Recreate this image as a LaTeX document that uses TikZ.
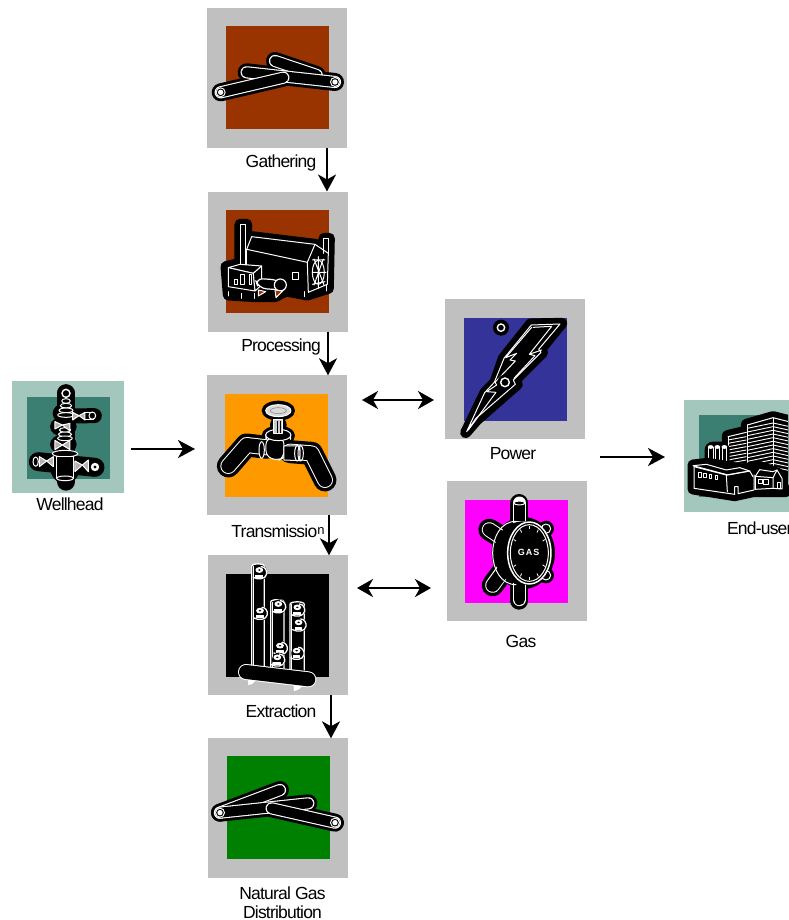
\documentclass[tikz,border=0pt]{standalone}
\usepackage{fontspec}
\setmainfont[LetterSpace=-4.5]{Liberation Sans}
\usetikzlibrary{arrows.meta}
\definecolor{tilegray}{HTML}{C0C0C0}
\definecolor{brownb}{HTML}{993300}
\definecolor{orangeb}{HTML}{FF9900}
\definecolor{greenb}{HTML}{008000}
\definecolor{blueb}{HTML}{333399}
\definecolor{magb}{HTML}{FF00FF}
\definecolor{tealb}{HTML}{3B7F73}
\definecolor{tealt}{HTML}{A3C7BD}
\tikzset{
  tile/.style={fill=tilegray,draw=none,minimum width=140pt,minimum height=140pt,inner sep=0pt,outer sep=0pt},
  tealtile/.style={fill=tealt,draw=none,minimum width=112pt,minimum height=112pt,inner sep=0pt,outer sep=0pt},
  core/.style={fill=#1,draw=none,minimum width=103pt,minimum height=103pt,inner sep=0pt,outer sep=0pt},
  tealcore/.style={fill=tealb,draw=none,minimum width=83pt,minimum height=82pt,inner sep=0pt,outer sep=0pt},
  lab/.style={inner sep=0pt,outer sep=0pt,font=\fontsize{17.5pt}{18.5pt}\selectfont,text=black,align=center},
  flow/.style={line width=2.3pt,black,-{Stealth[length=17pt,width=18pt,inset=5pt]}},
  both/.style={line width=2.3pt,black,{Stealth[length=16pt,width=18pt,inset=5pt]}-{Stealth[length=16pt,width=18pt,inset=5pt]}},
  icon/.style 2 args={shift={(#1,#2)},x=0.3333pt,y=-0.3333pt},
  wl/.style={draw=white,line width=1pt,line join=round,line cap=round},
  sil/.style={draw=black,fill=black,line width=11pt,line join=round,line cap=round},
}
\newcommand\pipeout[2][18pt]{\draw[line width=#1,black,line cap=round,line join=round] #2;}
\newcommand\pipein[2][10pt]{%
  \draw[line width=#1+2.2pt,white,line cap=round,line join=round] #2;
  \draw[line width=#1,black,line cap=round,line join=round] #2;}
\newcommand\ringend[1]{\fill[white] #1 circle (15); \fill[black] #1 circle (11.5); \fill[white] #1 circle (8);}
\begin{document}
\begin{tikzpicture}[x=1pt,y=-1pt]
\useasboundingbox (0,0) rectangle (788,920);
% tiles
\node[tile] (gather) at (277,78) {};
\node[core=brownb] (gatherc) at (277.5,77.5) {};
\node[tile] (proc) at (277.5,261.5) {};
\node[core=brownb] (procc) at (277.5,261.5) {};
\node[tile] (trans) at (277,445.3) {};
\node[core=orangeb] (transc) at (276.7,445) {};
\node[tile] (extr) at (277.5,625.3) {};
\node[core=black] (extrc) at (277.5,625.8) {};
\node[tile] (dist) at (278,808.3) {};
\node[core=greenb] (distc) at (278.5,807.8) {};
\node[tile] (power) at (515,369.3) {};
\node[core=blueb] (powerc) at (515.5,369.3) {};
\node[tile] (gas) at (516.7,551.3) {};
\node[core=magb] (gasc) at (516.5,551.3) {};
\node[tealtile] (well) at (68,437.3) {};
\node[tealcore] (wellc) at (68.3,437.5) {};
\node[tealtile] (end) at (740,456) {};
\node[tealcore] (endc) at (740.2,455.5) {};

% Gathering pipes
\begin{scope}[icon={200}{0}]
  \pipeout{(225,183) -- (350,225)}
  \pipeout{(140,217) -- (405,246)}
  \pipeout{(62,277) -- (250,233)}
  \pipein{(225,183) -- (350,225)}
  \pipein{(140,217) -- (405,246)}
  \pipein{(62,277) -- (250,233)}
  \ringend{(405,246)}
  \ringend{(62,277)}
\end{scope}

% Natural gas pipes
\begin{scope}[icon={200}{735}]
  \pipeout{(60,233) -- (240,165)}
  \pipeout{(60,233) -- (325,205)}
  \pipeout{(215,220) -- (405,263)}
  \pipein{(60,233) -- (240,165)}
  \pipein{(60,233) -- (325,205)}
  \pipein{(215,220) -- (405,263)}
  \ringend{(405,263)}
  \ringend{(60,233)}
\end{scope}

% Processing plant
\begin{scope}[icon={200}{185}]
  \draw[sil] (120,118) -- (140,118) -- (140,170) -- (155,155) -- (345,178) -- (372,192) -- (372,160) -- (388,160) -- (385,310) -- (322,330) -- (258,318) -- (225,335) -- (165,335) -- (85,330) -- (78,245) -- (120,235) -- cycle;
  % chimney right
  \draw[wl,fill=black] (372,205) -- (372,160) -- (387,160) -- (387,205);
  % roof and walls
  \draw[wl] (155,155) -- (345,178) -- (322,232) -- (140,193) -- cycle;
  \draw[wl] (322,232) -- (325,322) -- (382,298) -- (385,205) -- (345,178);
  \draw[wl] (140,193) -- (140,240);
  \draw[wl] (278,262) rectangle (295,285);
  % lattice window
  \draw[wl] (355,262) ellipse (18 and 36);
  \draw[wl] (337,225) -- (375,225) (337,262) -- (378,262) (337,298) -- (375,290) (355,215) -- (355,310) (342,222) -- (372,300) (370,222) -- (342,300);
  % chimney left
  \draw[wl,fill=black] (122,245) -- (122,120) -- (138,120) -- (138,250);
  % small box
  \draw[wl,fill=black] (85,248) -- (120,238) -- (185,243) -- (160,265) -- cycle;
  \draw[wl,fill=black] (85,248) -- (160,265) -- (165,318) -- (85,305) -- cycle;
  \draw[wl,fill=black] (160,265) -- (185,243) -- (185,300) -- (165,318) -- cycle;
  \draw[wl] (103,283) rectangle (114,298);
  \draw[wl] (122,270) rectangle (135,300);
  \draw[wl] (148,270) rectangle (156,298);
  % legs
  \draw[wl] (85,320) -- (85,333) (125,325) -- (125,340) (165,325) -- (165,340) (315,320) -- (315,335) (380,300) -- (380,318);
  % tank
  \draw[wl,fill=black,line width=1.2pt,rounded corners=8pt] (165,280) -- (240,285) -- (250,315) -- (175,310) -- cycle;
  \draw[wl,fill=black,line width=1.2pt] (241,300) circle (18);
  \draw[wl,fill=brownb] (175,315) -- (197,320) -- (175,333) -- cycle;
  \draw[wl,fill=brownb] (225,315) -- (248,318) -- (228,338) -- cycle;
\end{scope}

% Transmission valve
\begin{scope}[icon={200}{370}]
  \draw[black,line width=23pt,line cap=round,line join=round] (200,232) -- (140,225) -- (85,288);
  \draw[black,line width=23pt,line cap=round,line join=round] (270,245) -- (335,250) -- (375,330);
  \draw[black,line width=16pt,line cap=round] (235,190) -- (235,240);
  \fill[black] (235,122) ellipse (50 and 30);
  \fill[black] (235,165) ellipse (25 and 25);
  \fill[black] (235,197) ellipse (50 and 30);
  \draw[white,line width=16pt,line cap=round,line join=round] (200,232) -- (140,225) -- (85,288);
  \draw[black,line width=14pt,line cap=round,line join=round] (200,232) -- (140,225) -- (85,288);
  \draw[white,line width=16pt,line cap=round,line join=round] (270,245) -- (335,250) -- (375,330);
  \draw[black,line width=14pt,line cap=round,line join=round] (270,245) -- (335,250) -- (375,330);
  % body
  \draw[wl,fill=black,rounded corners=6pt] (198,205) -- (198,260) -- (235,272) -- (252,262) -- (252,205) -- cycle;
  \draw[wl,fill=black] (185,240) ellipse (8 and 25);
  \draw[wl,fill=black] (252,228) -- (300,228) -- (300,272) -- (252,270) -- cycle;
  \draw[wl,fill=black] (292,250) ellipse (8 and 23);
  \draw[wl] (302,250) ellipse (8 and 23);
  \draw[wl,fill=black] (198,195) -- (198,208) arc (180:360:37 and 15) -- (272,195);
  \draw[wl,fill=black] (235,195) ellipse (38 and 17);
  \draw[wl,fill=white!80!black] (222,150) rectangle (248,190);
  \draw[black,line width=.7pt] (232,152) -- (232,188) (240,152) -- (240,188);
  \draw[wl,fill=white!85!black] (235,122) ellipse (38 and 18);
  \draw[gray,line width=.5pt] (235,122) ellipse (24 and 9);
\end{scope}

% Extraction columns
\begin{scope}[icon={200}{550}]
  \foreach \xa/\xb/\yt/\yb in {155/193/40/350,212/252/148/355,270/313/155/360}{
    \draw[wl,fill=black,line width=1.3pt] (\xa,\yb) -- (\xa,\yt+8) to[out=90,in=90,looseness=.6] (\xb,\yt+8) -- (\xb,\yb);
    \draw[white,line width=.8pt] (\xa+5,\yb) -- (\xa+5,\yt+8);
  }
  \foreach \cx/\cy in {178/68,180/190,235/170,240/295,232/330,292/180,296/225,290/310}{
    \fill[black] (\cx+4,\cy) ellipse (20 and 22);
    \draw[wl,line width=1.3pt] (\cx-18,\cy+14) to[out=-30,in=-100] (\cx+22,\cy+4) to[out=80,in=0] (\cx+6,\cy-18);
    \draw[wl,fill=white] (\cx,\cy-8) ellipse (10 and 7);
    \fill[black] (\cx,\cy-8) ellipse (4 and 2.5);
    \draw[wl,fill=white] (\cx-10,\cy+8) rectangle (\cx+10,\cy+14);
  }
  \draw[white,fill=white] (145,385) -- (170,388) -- (155,402) -- (145,404) -- cycle;
  \draw[white,fill=white] (282,403) -- (312,405) -- (292,420) -- (282,422) -- cycle;
  \draw[line width=16pt,white,line cap=round] (138,366) -- (325,388);
  \draw[line width=14pt,black,line cap=round] (138,366) -- (325,388);
\end{scope}

% Power bolt
\begin{scope}[icon={440}{295}]
  \draw[sil] (272,87) -- (365,85) -- (300,165) -- (308,172) -- (225,255) -- (232,268) -- (110,375) -- (77,413) -- (135,293) -- (165,262) -- (190,190) -- cycle;
  \draw[wl] (274,90) -- (360,87) -- (296,163) -- (303,172) -- (220,255) -- (226,268) -- (108,370) -- (80,410) -- (134,293) -- (163,262) -- (192,190) -- cycle;
  \draw[wl] (280,97) -- (335,94) -- (268,178) -- (305,165) (268,178) -- (285,182) -- (222,250);
  \draw[wl] (275,97) -- (197,188) -- (230,175) -- (210,195) -- (226,198) -- (165,262) -- (170,270) -- (140,290) -- (168,292) -- (85,405);
  \fill[black] (183,98) circle (24);
  \draw[white,line width=1.4pt] (183,98) circle (11);
  \fill[black] (195,262) circle (23);
  \draw[white,line width=1.4pt] (195,262) circle (13);
\end{scope}

% Gas meter
\begin{scope}[icon={440}{478}]
  \draw[black,line width=18pt,line cap=round] (238,75) -- (238,368);
  \draw[black,line width=22pt,line cap=round] (148,155) -- (205,190);
  \draw[black,line width=22pt,line cap=round] (158,322) -- (200,265);
  \fill[black] (318,152) circle (24);
  \fill[black] (318,292) circle (24);
  \fill[black] (250,225) ellipse (95 and 108);
  % white pipes
  \draw[white,line width=13pt,line cap=round] (238,75) -- (238,130);
  \draw[black,line width=11pt] (238,75) -- (238,130);
  \draw[wl,fill=black] (238,75) ellipse (17 and 6);
  \draw[white,line width=13pt,line cap=round] (238,318) -- (238,365);
  \draw[black,line width=11pt,line cap=round] (238,318) -- (238,365);
  \draw[white,line width=15pt,line cap=round] (148,155) -- (190,183);
  \draw[black,line width=13pt,line cap=round] (148,155) -- (200,190);
  \draw[white,line width=15pt,line cap=round] (158,322) -- (190,277);
  \draw[black,line width=13pt,line cap=round] (158,322) -- (198,268);
  \draw[wl] (318,152) circle (14);
  \draw[wl] (318,292) circle (14);
  \fill[black] (250,225) ellipse (88 and 95);
  \draw[wl] (228,130) to[out=180,in=90] (158,225) to[out=-90,in=180] (228,320);
  \draw[wl,line width=1.5pt] (268,225) ellipse (65 and 93);
  \draw[wl] (268,225) ellipse (57 and 85);
  \foreach \a in {30,60,90,120,150,210,240,270,300,330}{
    \draw[white,line width=.8pt] ({268+54*cos(\a)},{225-81*sin(\a)}) -- ({268+46*cos(\a)},{225-71*sin(\a)});
  }
  \node[inner sep=0pt,text=white,font=\fontsize{9pt}{9pt}\selectfont\bfseries\addfontfeature{LetterSpace=12}] (gasword) at (266,222) {GAS};
\end{scope}

% Wellhead
\begin{scope}[icon={5}{375}]
  \draw[black,line width=18pt,line cap=round] (183,55) -- (183,320);
  \fill[black] (183,55) circle (27);
  \draw[black,line width=15pt,line cap=round] (183,123) -- (268,122);
  \draw[black,line width=19pt,line cap=round] (100,260) -- (270,277);
  \fill[black] (178,115) ellipse (35 and 30);
  \fill[black] (175,155) ellipse (40 and 30);
  \fill[black] (175,208) ellipse (40 and 30);
  \fill[black] (180,275) ellipse (45 and 52);
  \draw[white,line width=1.4pt] (183,55) circle (12);
  \foreach \y/\rr in {78/13,92/17,106/21,120/25}{\draw[wl,fill=black] (183,\y) ellipse ({\rr} and 7);}
  \foreach \y/\rr in {165/17,178/20,190/22}{\draw[wl,fill=black] (180,\y) ellipse ({\rr} and 7);}
  \draw[wl,fill=white!70!black] (150,140) -- (172,150) -- (150,162) -- cycle;
  \draw[wl,fill=white!70!black] (195,145) -- (172,150) -- (195,168) -- cycle;
  \draw[wl,fill=white!70!black] (203,112) -- (222,122) -- (203,135) -- cycle;
  \draw[wl,fill=white!70!black] (240,112) -- (222,122) -- (240,135) -- cycle;
  \draw[wl] (240,112) -- (265,112) (240,133) -- (265,133);
  \draw[wl] (262,122) ellipse (10 and 11);
  \draw[wl,fill=white!70!black] (150,196) -- (172,210) -- (150,224) -- cycle;
  \draw[wl,fill=white!70!black] (195,196) -- (172,210) -- (195,224) -- cycle;
  \draw[wl,fill=black] (180,236) ellipse (38 and 10);
  \draw[wl,fill=black] (155,245) rectangle (205,310);
  \draw[wl,fill=black] (180,310) ellipse (25 and 7);
  \draw[wl,fill=white!70!black] (103,245) -- (125,258) -- (103,275) -- cycle;
  \draw[wl,fill=white!70!black] (145,245) -- (125,258) -- (145,275) -- cycle;
  \draw[wl] (92,260) ellipse (8 and 14);
  \draw[wl,fill=white!70!black] (210,258) -- (232,270) -- (210,290) -- cycle;
  \draw[wl,fill=white!70!black] (250,255) -- (232,270) -- (250,290) -- cycle;
  \draw[wl,fill=white] (270,276) circle (11);
  \fill[black] (270,276) circle (5);
\end{scope}

% End-user buildings
\begin{scope}[icon={678}{395}]
  \begin{scope}
  \clip (0,0) rectangle (330,350);
  \draw[sil] (205,88) -- (285,65) -- (345,80) -- (345,235) -- (300,260) -- (205,240) -- cycle;
  \draw[sil] (148,122) -- (205,108) -- (205,225) -- (148,225) -- cycle;
  \draw[wl] (208,90) -- (285,68) -- (340,82);
  \draw[wl] (208,90) -- (208,225);
  \foreach \i in {0,...,12}{
    \draw[white,line width=.9pt] (208,{100+\i*11}) -- (285,{78+\i*11+6}) -- (340,{96+\i*11});
  }
  \draw[white,line width=1pt] (285,68) -- (285,215);
  \draw[wl] (150,125) -- (205,112);
  \foreach \i in {0,...,8}{
    \draw[white,line width=.9pt] (150,{135+\i*10}) -- (205,{125+\i*10});
  }
  \draw[wl] (150,125) -- (150,205);
  \end{scope}
  % stacks
  \fill[black,rounded corners=8pt] (80,140) rectangle (155,225);
  \foreach \x in {98,118,139}{
    \draw[wl,fill=black] (\x-7,220) -- (\x-7,158) -- (\x+7,158) -- (\x+7,220);
    \draw[wl,fill=white] (\x,156) ellipse (7 and 4);
  }
  % factory
  \draw[sil] (45,210) -- (90,205) -- (190,222) -- (245,215) -- (300,235) -- (322,290) -- (225,290) -- (170,302) -- (45,282) -- cycle;
  \draw[wl] (45,212) -- (85,208) -- (145,225) -- (185,218) -- (215,228) -- (150,240) -- cycle;
  \draw[wl] (48,215) -- (145,240) -- (215,228) -- (225,245);
  \draw[wl] (48,215) -- (48,280) -- (170,298);
  \draw[wl] (145,240) -- (148,290);
  \draw[wl] (170,298) -- (170,275) -- (180,275) -- (180,296) -- (228,285) -- (228,240);
  \foreach \x/\y in {65/238,80/240,97/243,114/246}{\draw[wl] (\x-3,\y-5) rectangle (\x+4,\y+9);}
  % annex
  \draw[wl,fill=black] (232,244) -- (245,224) -- (285,230) -- (297,225) -- (312,250) -- (312,282) -- (285,280) -- (232,283) -- cycle;
  \draw[wl] (232,244) -- (285,248) -- (297,225) (285,248) -- (285,280);
  \draw[wl] (240,253) rectangle (252,266);
  \draw[wl] (257,253) rectangle (272,268);
  \draw[wl] (297,262) rectangle (307,280);
\end{scope}

% labels
\node[lab] (lgather) at (281,163) {Gathering};
\node[lab] (lproc) at (281,347) {Processing};
\node[lab] (ltrans) at (278,531.5) {Transmissio\raisebox{3.5pt}{\fontsize{13pt}{14pt}\selectfont n}};
\node[lab] (lextr) at (281,711.5) {Extraction};
\node[lab] (ldist) at (282.5,902.5) {Natural Gas\\Distribution};
\node[lab] (lpower) at (513,454) {Power};
\node[lab] (lgas) at (521,641) {Gas};
\node[lab] (lwell) at (70,504.5) {Wellhead};
\node[lab,anchor=west] (lend) at (727,528.5) {End-user};

% connectors
\draw[flow] ([xshift=50pt]gather.south) -- ([xshift=49.5pt]proc.north);
\draw[flow] ([xshift=50.5pt]proc.south) -- ([xshift=51pt]trans.north);
\draw[flow] ([xshift=52pt]trans.south) -- ([xshift=51.5pt]extr.north);
\draw[flow] ([xshift=53.5pt]extr.south) -- ([xshift=53pt]dist.north);
\coordinate (wellout) at (131,449);
\coordinate (transin) at (195,449);
\draw[flow] (wellout) -- (transin);
\coordinate (tp) at (362,400);
\coordinate (pt) at (434,400);
\draw[both] (tp) -- (pt);
\coordinate (eg) at (357,588);
\coordinate (ge) at (431,588);
\draw[both] (eg) -- (ge);
\coordinate (powout) at (600,457);
\coordinate (endin) at (665,457);
\draw[flow] (powout) -- (endin);
\end{tikzpicture}
\end{document}
